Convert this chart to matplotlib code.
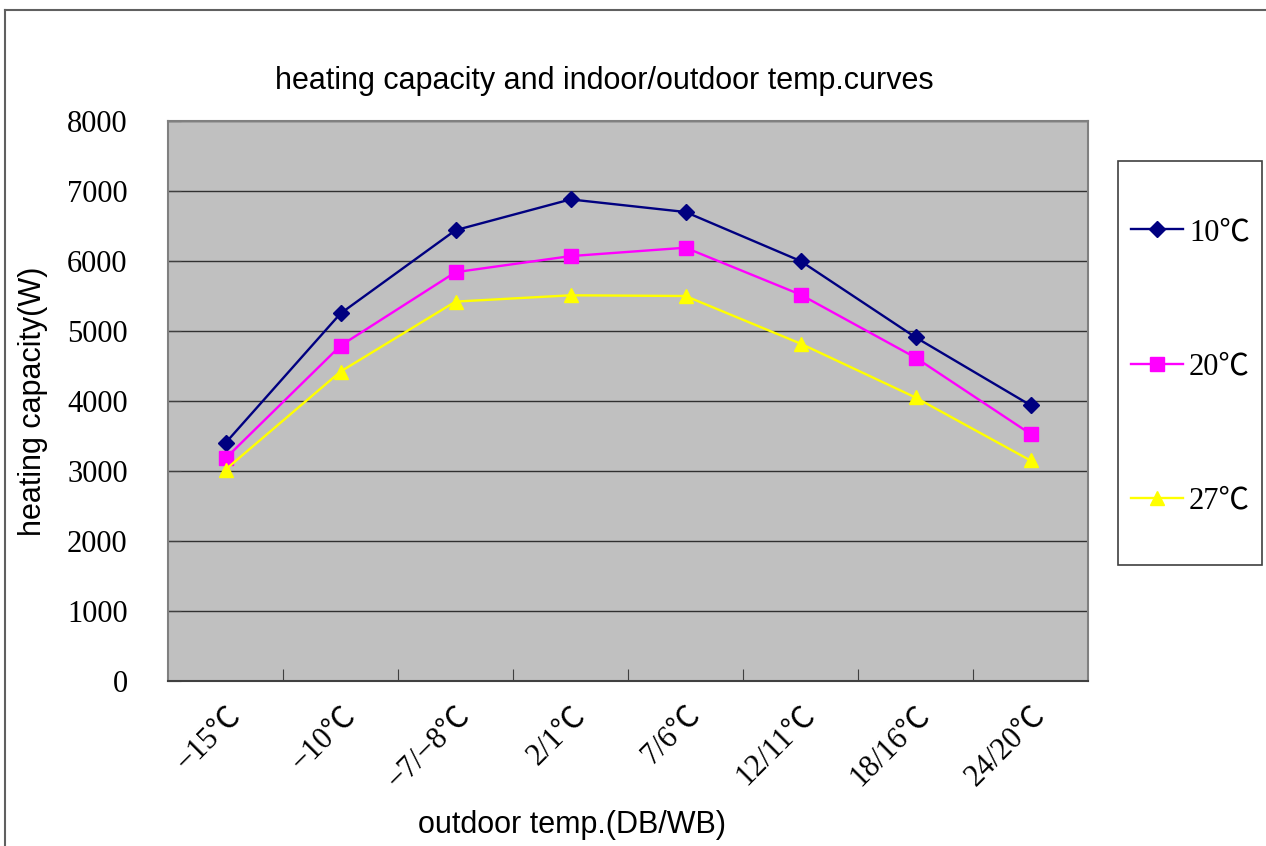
import matplotlib.pyplot as plt
from matplotlib.lines import Line2D
from matplotlib.patches import Rectangle

categories = ["−15℃", "−10℃", "−7/−8℃", "2/1℃", "7/6℃", "12/11℃", "18/16℃", "24/20℃"]
cap_10 = [3400, 5250, 6440, 6880, 6700, 6000, 4910, 3940]
cap_20 = [3180, 4790, 5840, 6070, 6190, 5520, 4620, 3530]
cap_27 = [3020, 4420, 5420, 5510, 5500, 4820, 4050, 3150]
series_names = ["10℃", "20℃", "27℃"]

serif = ["Liberation Serif", "Noto Sans CJK SC", "DejaVu Serif"]
sans = ["Liberation Sans", "DejaVu Sans"]
FS = 22

W, H = 1266, 846
fig = plt.figure(figsize=(W / 100, H / 100), dpi=100)
fig.patch.set_facecolor("white")

# plot area in pixels: left 168, right 1088, top 121, bottom 681
ax = fig.add_axes([168 / W, 1 - 681 / H, 920 / W, 560 / H])
ax.set_facecolor("#c0c0c0")

x = list(range(len(categories)))
ax.plot(x, cap_10, color="#000080", lw=1.7, marker="D", ms=8, label=series_names[0])
ax.plot(x, cap_20, color="#ff00ff", lw=1.7, marker="s", ms=10, label=series_names[1])
ax.plot(x, cap_27, color="#ffff00", lw=1.7, marker="^", ms=10, label=series_names[2])

ax.set_xlim(-0.5, len(categories) - 0.5)
ax.set_ylim(0, 8000)
ax.set_yticks(range(0, 8001, 1000))
ax.yaxis.grid(True, color="#303030", lw=1)
ax.set_axisbelow(True)

ax.set_xticks([i + 0.5 for i in range(len(categories) - 1)], minor=False)
ax.set_xticklabels([])
ax.set_xticks(x, minor=True)
ax.set_xticklabels(categories, minor=True, rotation=45, ha="right",
                   rotation_mode="anchor", family=serif, fontsize=FS)
ax.tick_params(axis="x", which="minor", length=0, pad=14)
ax.tick_params(axis="x", which="major", direction="in", length=9, color="#404040")
ax.tick_params(axis="y", direction="in", length=9, color="#404040", pad=29)
for lab in ax.get_yticklabels():
    lab.set_family(serif)
    lab.set_fontsize(FS)

for s in ax.spines.values():
    s.set_color("#808080")
    s.set_linewidth(1.5)
ax.spines["bottom"].set_color("#404040")

fig.text(604 / W, 1 - 81 / H, "heating capacity and indoor/outdoor temp.curves",
         ha="center", va="center", family=sans, fontsize=FS)
fig.text(33 / W, 1 - 401 / H, "heating capacity(W)", rotation=90,
         ha="center", va="center", family=sans, fontsize=FS)
fig.text(572 / W, 1 - 825 / H, "outdoor temp.(DB/WB)",
         ha="center", va="center", family=sans, fontsize=FS)

# legend box drawn by hand, entries placed inside it
fig.add_artist(Rectangle((1118 / W, 1 - 565 / H), 144 / W, 404 / H,
                         transform=fig.transFigure, facecolor="white",
                         edgecolor="#404040", lw=1.2))
leg = fig.legend(loc="upper left", bbox_to_anchor=(1131 / W, 1 - 218 / H),
                 prop={"family": serif, "size": FS}, frameon=False,
                 labelspacing=3.45, borderpad=0, handlelength=1.7,
                 handletextpad=0.2, borderaxespad=0)

# outer chart border (partly outside the image)
fig.add_artist(Line2D([5 / W, 1], [1 - 10 / H, 1 - 10 / H], transform=fig.transFigure,
                      color="#606060", lw=1.5))
fig.add_artist(Line2D([5 / W, 5 / W], [0, 1 - 10 / H], transform=fig.transFigure,
                      color="#606060", lw=1.5))

fig.savefig("out.png", dpi=100)
